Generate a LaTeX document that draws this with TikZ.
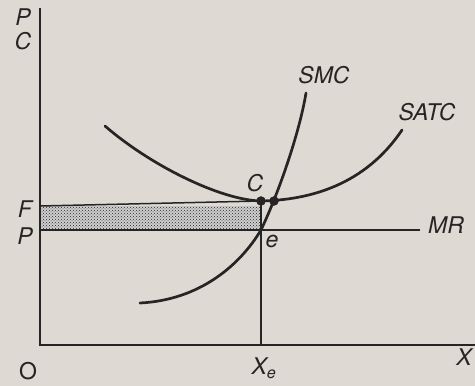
\documentclass[tikz,border=0pt]{standalone}
\usepackage{fontspec}
\setmainfont{TeX Gyre Heros}
\usetikzlibrary{patterns}
\definecolor{paper}{RGB}{222,218,211}
\definecolor{ink}{RGB}{38,36,36}
\tikzset{
    lbl/.style={inner sep=0pt, text=ink, font=\itshape\fontsize{23}{25}\selectfont},
    curve/.style={ink, line width=2.7pt, line cap=round},
    axisline/.style={ink, line width=1.9pt},
    guide/.style={ink, line width=1.5pt}
}
\begin{document}
\begin{tikzpicture}[x=1pt, y=-1pt]
    \fill[paper] (0,0) rectangle (475,386);
    \useasboundingbox (0,0) rectangle (475,386);
    \coordinate (top) at (40,8);
    \coordinate (O) at (40,345);
    \coordinate (xend) at (475,345);
    \coordinate (F) at (40,206);
    \coordinate (P) at (40,230);
    \coordinate (C) at (261,201);
    \coordinate (e) at (261,230);
    \coordinate (Xe) at (261,345);
    \coordinate (mrend) at (420,230);
    \coordinate (cut) at (274,201);
    \fill[ink!22] (F) rectangle (e);
    \fill[pattern=crosshatch dots, pattern color=ink] (F) rectangle (e);
    \draw[guide] (F) -- (C);
    \draw[guide] (P) -- (mrend);
    \draw[guide] (C) -- (Xe);
    \draw[axisline] (top) -- (O) -- (xend);
    \draw[curve] (105,126) .. controls (150,165) and (220,200) .. (C) .. controls (310,200) and (365,185) .. (402,130);
    \draw[curve] (140,303) .. controls (200,300) and (240,265) .. (e) .. controls (280,190) and (300,130) .. (306,93);
    \filldraw[fill=ink, draw=ink] (C) circle (4.5);
    \filldraw[fill=ink, draw=ink] (cut) circle (4.5);
    \node[lbl] (pname) at (23,17) {P};
    \node[lbl] (cname) at (23,41) {C};
    \node[lbl] (fname) at (25,209) {F};
    \node[lbl] (pprice) at (25,236) {P};
    \node[lbl, font=\fontsize{23}{25}\selectfont] (oname) at (28,371) {O};
    \node[lbl] (xname) at (464,357) {X};
    \node[lbl] (xename) at (264,368) {X\textsubscript{e}};
    \node[lbl] (smcname) at (324,75) {SMC};
    \node[lbl] (satcname) at (427,112) {SATC};
    \node[lbl] (mrname) at (446,225) {MR};
    \node[lbl] (cpoint) at (255,183) {C};
    \node[lbl] (epoint) at (272,241) {e};
\end{tikzpicture}
\end{document}
